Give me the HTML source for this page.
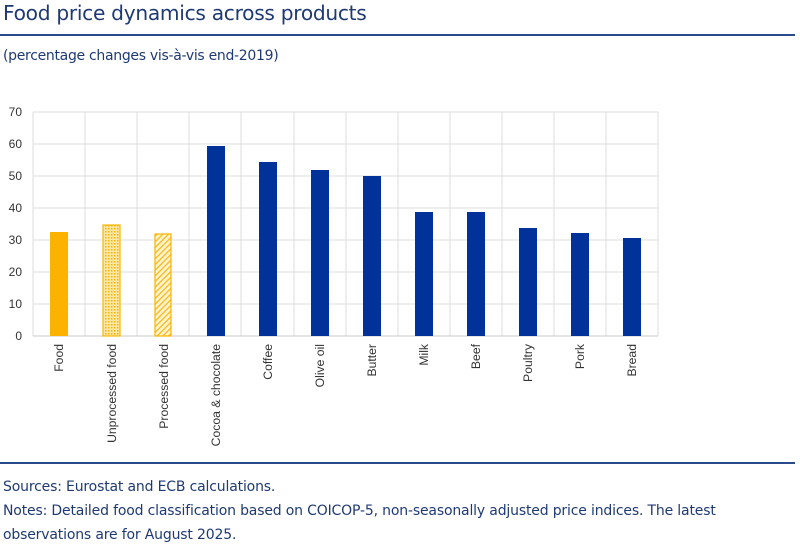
<!DOCTYPE html>
<html><head><meta charset="utf-8"><style>
body{margin:0;background:#fff;width:800px;height:548px;overflow:hidden;font-family:"Liberation Sans",sans-serif}
.t{position:absolute;left:3px;top:1px;font-size:20.2px;color:#1f3a73;font-family:"DejaVu Sans","Liberation Sans",sans-serif;letter-spacing:-0.3px}
.s{position:absolute;left:3px;top:48px;font-size:14px;color:#1f3a73;font-family:"DejaVu Sans",sans-serif;letter-spacing:-0.3px}
.f{position:absolute;left:3px;font-size:14px;color:#1f3a73;font-family:"DejaVu Sans",sans-serif;letter-spacing:-0.17px}
.ln{position:absolute;left:0;width:795px;height:2px;background:#2a4a8a}
</style></head><body>
<div class="t">Food price dynamics across products</div>
<div class="ln" style="top:34px"></div>
<div class="s">(percentage changes vis-à-vis end-2019)</div>
<svg style="position:absolute;left:0;top:0" width="800" height="548">
<defs>
<pattern id="dots" width="3" height="3" patternUnits="userSpaceOnUse"><rect width="3" height="3" fill="#fde7a8"/><rect width="1.5" height="1.5" fill="#f7b500"/></pattern>
<pattern id="diag" width="4" height="4" patternUnits="userSpaceOnUse" patternTransform="rotate(45)"><rect width="4" height="4" fill="#fff4d0"/><rect width="1.5" height="4" fill="#f7c030"/></pattern>
</defs>
<g stroke="#dcdcdc" stroke-width="1">
<line x1="33" y1="112" x2="658" y2="112"/><line x1="33" y1="144" x2="658" y2="144"/><line x1="33" y1="176" x2="658" y2="176"/><line x1="33" y1="208" x2="658" y2="208"/><line x1="33" y1="240" x2="658" y2="240"/><line x1="33" y1="272" x2="658" y2="272"/><line x1="33" y1="304" x2="658" y2="304"/>
<line x1="33" y1="112" x2="33" y2="336"/><line x1="85" y1="112" x2="85" y2="336"/><line x1="137" y1="112" x2="137" y2="336"/><line x1="189" y1="112" x2="189" y2="336"/><line x1="241" y1="112" x2="241" y2="336"/><line x1="294" y1="112" x2="294" y2="336"/><line x1="346" y1="112" x2="346" y2="336"/><line x1="398" y1="112" x2="398" y2="336"/><line x1="450" y1="112" x2="450" y2="336"/><line x1="502" y1="112" x2="502" y2="336"/><line x1="554" y1="112" x2="554" y2="336"/><line x1="606" y1="112" x2="606" y2="336"/><line x1="658" y1="112" x2="658" y2="336"/>
</g>
<line x1="33" y1="336" x2="658" y2="336" stroke="#c8c8c8"/>
<g font-size="12" fill="#333" text-anchor="end">
<text x="22" y="116">70</text><text x="22" y="148">60</text><text x="22" y="180">50</text><text x="22" y="212">40</text><text x="22" y="244">30</text><text x="22" y="276">20</text><text x="22" y="308">10</text><text x="22" y="340">0</text>
</g>
<rect x="50" y="232" width="18" height="104" fill="#fbb300"/>
<rect x="103" y="225" width="17" height="111" fill="url(#dots)" stroke="#f7b500" stroke-width="1.2"/>
<rect x="155" y="234" width="16" height="102" fill="url(#diag)" stroke="#f7b500" stroke-width="1.2"/>
<g fill="#003299">
<rect x="207" y="146" width="18" height="190"/>
<rect x="259" y="162" width="18" height="174"/>
<rect x="311" y="170" width="18" height="166"/>
<rect x="363" y="176" width="18" height="160"/>
<rect x="415" y="212" width="18" height="124"/>
<rect x="467" y="212" width="18" height="124"/>
<rect x="519" y="228" width="18" height="108"/>
<rect x="571" y="233" width="18" height="103"/>
<rect x="623" y="238" width="18" height="98"/>
</g>
<g font-size="12.2" fill="#333" text-anchor="end">
<text transform="translate(63,344) rotate(-90)">Food</text>
<text transform="translate(116,344) rotate(-90)">Unprocessed food</text>
<text transform="translate(168,344) rotate(-90)">Processed food</text>
<text transform="translate(220,344) rotate(-90)">Cocoa &amp; chocolate</text>
<text transform="translate(272,344) rotate(-90)">Coffee</text>
<text transform="translate(324,344) rotate(-90)">Olive oil</text>
<text transform="translate(376,344) rotate(-90)">Butter</text>
<text transform="translate(428,344) rotate(-90)">Milk</text>
<text transform="translate(480,344) rotate(-90)">Beef</text>
<text transform="translate(532,344) rotate(-90)">Poultry</text>
<text transform="translate(584,344) rotate(-90)">Pork</text>
<text transform="translate(636,344) rotate(-90)">Bread</text>
</g>
</svg>
<div class="ln" style="top:462px"></div>
<div class="f" style="top:479px">Sources: Eurostat and ECB calculations.</div>
<div class="f" style="top:503px">Notes: Detailed food classification based on COICOP-5, non-seasonally adjusted price indices. The latest</div>
<div class="f" style="top:527px">observations are for August 2025.</div>
</body></html>
